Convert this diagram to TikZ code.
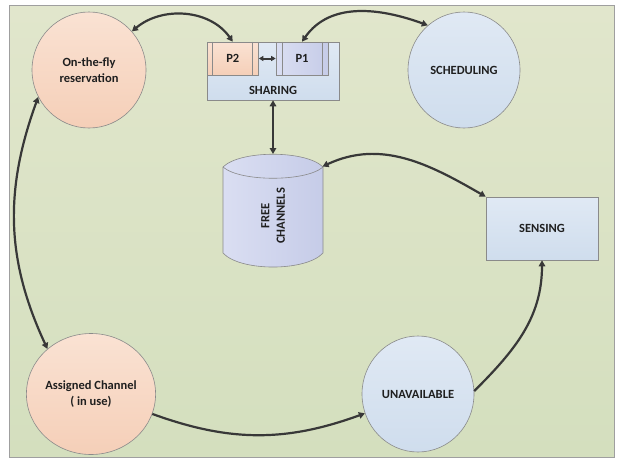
\documentclass[tikz,border=0pt]{standalone}
\usepackage{fontspec}
\setmainfont{Carlito}
\usetikzlibrary{shapes.geometric,arrows.meta}
\definecolor{bgtop}{HTML}{E1E6CC}
\definecolor{bgbot}{HTML}{D4DFBE}
\definecolor{ortop}{HTML}{FAE2D3}
\definecolor{orbot}{HTML}{F5CFB8}
\definecolor{bltop}{HTML}{E0E9F4}
\definecolor{blbot}{HTML}{CFDDED}
\definecolor{lvleft}{HTML}{DADEF2}
\definecolor{lvright}{HTML}{C6CCE8}
\definecolor{arrowgray}{HTML}{383838}
\definecolor{edgecol}{HTML}{8A8A8A}
\begin{document}
\begin{tikzpicture}[x=1pt,y=-1pt,
  every node/.style={font=\fontsize{12.5}{15.5}\selectfont\bfseries, text=black!88, align=center, inner sep=0pt},
  outl/.style={draw=edgecol, line width=0.6pt},
  orangecirc/.style={ellipse, outl, top color=ortop, bottom color=orbot},
  bluecirc/.style={ellipse, outl, top color=bltop, bottom color=blbot},
  bluebox/.style={rectangle, outl, top color=bltop, bottom color=blbot},
  conn/.style={draw=arrowgray, line width=2.2pt, {Triangle[length=6pt,width=6.5pt]}-{Triangle[length=6pt,width=6.5pt]}},
  conn1/.style={draw=arrowgray, line width=2.2pt, -{Triangle[length=6pt,width=6.5pt]}},
  smallconn/.style={draw=arrowgray, line width=2pt, {Triangle[length=4.5pt,width=5pt]}-{Triangle[length=4.5pt,width=5pt]}},
]
\useasboundingbox (0,0) rectangle (618,458);
% background
\path[draw=gray!75, line width=0.8pt, top color=bgtop, bottom color=bgbot] (9.5,5.5) rectangle (614,457);

% circles
\node[orangecirc, minimum width=114pt, minimum height=116pt] (otf) at (89,70) {On-the-fly\\reservation};
\node[bluecirc, minimum width=112pt, minimum height=116pt] (sched) at (464,70) {SCHEDULING};
\node[orangecirc, minimum width=117pt, minimum height=121pt] (assigned) at (91,394) {Assigned Channel\\( in use)};
\node[bluecirc, minimum width=112pt, minimum height=116pt] (unavail) at (418,394) {UNAVAILABLE};

% sensing
\node[bluebox, minimum width=112pt, minimum height=63pt] (sensing) at (542,228.5) {SENSING};

% sharing
\node[bluebox, minimum width=132pt, minimum height=58pt] (sharing) at (273,71) {};
\node (sharinglabel) at (273,90) {SHARING};
\node[rectangle, outl, top color=ortop, bottom color=orbot, minimum width=51.5pt, minimum height=33pt] (p2) at (232.75,58.5) {P2};
\draw[outl] ([xshift=6pt]p2.north west) -- ([xshift=6pt]p2.south west);
\draw[outl] ([xshift=-6.5pt]p2.north east) -- ([xshift=-6.5pt]p2.south east);
\node[rectangle, outl, left color=lvleft, right color=lvright, minimum width=52pt, minimum height=33pt] (p1) at (302,58.5) {P1};
\draw[outl] ([xshift=6.5pt]p1.north west) -- ([xshift=6.5pt]p1.south west);
\draw[outl] ([xshift=-6.5pt]p1.north east) -- ([xshift=-6.5pt]p1.south east);
\draw[smallconn] (p2.east) -- (p1.west);

% free channels cylinder
\path[outl, left color=lvleft, right color=lvright]
  (223,167) .. controls (240,150) and (306,150) .. (323,167)
  -- (323,253) .. controls (306,271.7) and (240,271.7) .. (223,253) -- cycle;
\draw[outl] (223,167) .. controls (240,182) and (306,182) .. (323,167);
\node[rotate=90] (fc) at (273,216) {FREE\\CHANNELS};
\coordinate (fctop) at (273,154);
\coordinate (fcright) at (322.5,166.5);

% connectors
\draw[conn] (otf.42) to[out=40, in=125] (p2.north);
\draw[conn] (p1.north) to[out=55, in=160] (sched.129);
\draw[conn] (sharing.south) -- (fctop);
\draw[conn] (fcright) to[out=25, in=150] (sensing.north west);
\draw[conn] (otf.208) to[out=-110, in=115] (assigned.134);
\draw[conn1] (assigned.-18) to[out=-20, in=200] (unavail.200);
\draw[conn1] (unavail.3) to[out=45, in=-90] (sensing.south);
\end{tikzpicture}
\end{document}
